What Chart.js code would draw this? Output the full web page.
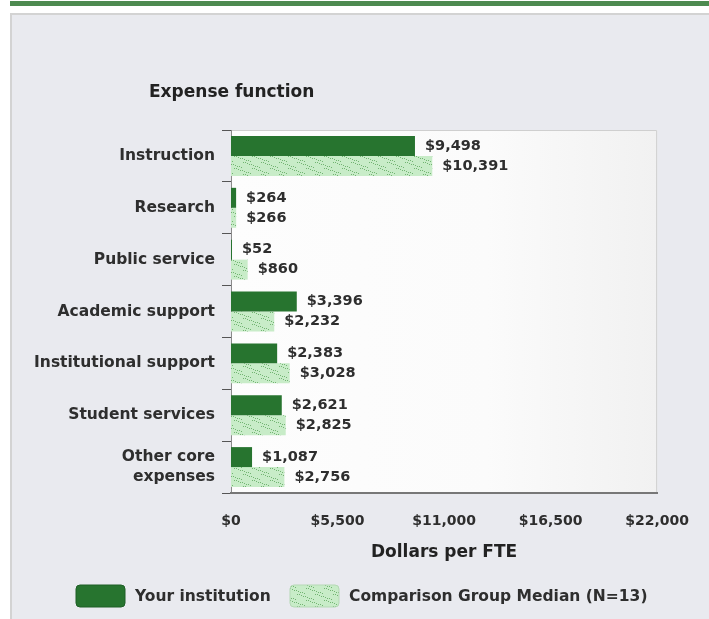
<!DOCTYPE html>
<html>
<head>
<meta charset="utf-8">
<script src="https://cdn.jsdelivr.net/npm/chart.js@4/dist/chart.umd.min.js"></script>
<style>
  html, body { margin: 0; padding: 0; background: #ffffff; }
  #wrap { width: 709px; height: 619px; }
</style>
</head>
<body>
<div id="wrap"><canvas id="c" width="709" height="619"></canvas></div>
<script>
const categories = ['Instruction', 'Research', 'Public service', 'Academic support', 'Institutional support', 'Student services', ['Other core', 'expenses']];
const yourInstitution = [9498, 264, 52, 3396, 2383, 2621, 1087];
const comparisonMedian = [10391, 266, 860, 2232, 3028, 2825, 2756];
const xTicks = [0, 5500, 11000, 16500, 22000];
const seriesNames = ['Your institution', 'Comparison Group Median (N=13)'];
const axisTitle = 'Dollars per FTE';
const chartTitle = 'Expense function';

const FONT = "'DejaVu Sans', Verdana, sans-serif";
const fmt = v => '$' + v.toLocaleString('en-US');

function makePattern() {
  const p = document.createElement('canvas');
  p.width = 18; p.height = 12;
  const g = p.getContext('2d');
  g.fillStyle = '#c8ecc8';
  g.fillRect(0, 0, 18, 12);
  g.fillStyle = '#72b472';
  for (let i = 0; i < 18; i += 2) {
    const y = Math.floor(i / 3);
    g.fillRect(i, y, 1, 1);
    g.fillRect((i + 9) % 18, 6 + y, 1, 1);
  }
  return document.getElementById('c').getContext('2d').createPattern(p, 'repeat');
}
const lightPattern = makePattern();
const darkColor = '#27742f';

const decor = {
  id: 'decor',
  beforeDraw(chart) {
    const ctx = chart.ctx;
    const a = chart.chartArea;
    ctx.save();
    ctx.fillStyle = '#ffffff';
    ctx.fillRect(0, 0, chart.width, chart.height);
    ctx.fillStyle = '#4d8a50';
    ctx.fillRect(10, 1, chart.width - 10, 5);
    ctx.fillStyle = '#d3d3d3';
    ctx.fillRect(10, 13, chart.width - 10, chart.height - 13);
    ctx.fillStyle = '#e9eaef';
    ctx.fillRect(12, 15, chart.width - 12, chart.height - 15);
    const gr = ctx.createLinearGradient(a.left, 0, a.right, 0);
    gr.addColorStop(0, '#fdfdfd');
    gr.addColorStop(0.6, '#fbfbfb');
    gr.addColorStop(1, '#f1f1f1');
    ctx.fillStyle = gr;
    ctx.fillRect(a.left, a.top, a.right - a.left, a.bottom - a.top);
    ctx.strokeStyle = '#cfcfcf';
    ctx.lineWidth = 1;
    ctx.beginPath();
    ctx.moveTo(a.left, a.top + 0.5);
    ctx.lineTo(a.right - 0.5, a.top + 0.5);
    ctx.lineTo(a.right - 0.5, a.bottom);
    ctx.stroke();
    ctx.fillStyle = '#222';
    ctx.font = 'bold 17px ' + FONT;
    ctx.textBaseline = 'middle';
    ctx.textAlign = 'left';
    ctx.fillText(chartTitle, 149, 93);
    ctx.restore();
  },
  afterDatasetsDraw(chart) {
    const ctx = chart.ctx;
    ctx.save();
    ctx.font = 'bold 14.5px ' + FONT;
    ctx.fillStyle = '#2e2e2e';
    ctx.textBaseline = 'middle';
    ctx.textAlign = 'left';
    chart.data.datasets.forEach((ds, di) => {
      chart.getDatasetMeta(di).data.forEach((bar, i) => {
        ctx.fillText(fmt(ds.data[i]), bar.x + 10, bar.y);
      });
    });
    // legend
    const items = [
      { x: 76, fill: darkColor, text: seriesNames[0] },
      { x: 290, fill: lightPattern, text: seriesNames[1] }
    ];
    const ly = 596;
    items.forEach(it => {
      ctx.beginPath();
      if (ctx.roundRect) ctx.roundRect(it.x, ly - 11, 49, 22, 4); else ctx.rect(it.x, ly - 11, 49, 22);
      ctx.fillStyle = it.fill;
      ctx.fill();
      ctx.strokeStyle = it.fill === darkColor ? '#1f5f26' : '#b5d9b5';
      ctx.lineWidth = 1;
      ctx.stroke();
      ctx.fillStyle = '#2e2e2e';
      ctx.font = 'bold 15.5px ' + FONT;
      ctx.fillText(it.text, it.x + 59, ly + 1);
    });
    ctx.restore();
  }
};

new Chart(document.getElementById('c'), {
  type: 'bar',
  data: {
    labels: categories,
    datasets: [
      { label: seriesNames[0], data: yourInstitution, backgroundColor: darkColor, borderWidth: 0, categoryPercentage: 0.77, barPercentage: 1.0 },
      { label: seriesNames[1], data: comparisonMedian, backgroundColor: lightPattern, borderWidth: 0, categoryPercentage: 0.77, barPercentage: 1.0 }
    ]
  },
  options: {
    indexAxis: 'y',
    responsive: false,
    animation: false,
    devicePixelRatio: 1,
    layout: { padding: { left: 0, top: 130, right: 49, bottom: 46 } },
    plugins: { legend: { display: false }, tooltip: { enabled: false }, title: { display: false } },
    scales: {
      y: {
        type: 'category',
        offset: true,
        afterFit(s) { s.width = 231; },
        grid: { display: true, drawOnChartArea: false, drawTicks: true, tickLength: 9, color: '#555555', offset: true },
        border: { display: true, color: '#8a8a8a', width: 1 },
        ticks: { color: '#2e2e2e', font: { family: FONT, size: 15.5, weight: 'bold', lineHeight: 1.3 }, padding: 7 }
      },
      x: {
        type: 'linear',
        min: 0,
        max: 22000,
        afterFit(s) { s.height = 80; },
        afterBuildTicks(s) { s.ticks = xTicks.map(v => ({ value: v })); },
        grid: { display: false, drawTicks: false },
        border: { display: true, color: '#777777', width: 2 },
        ticks: { color: '#2e2e2e', font: { family: FONT, size: 14, weight: 'bold' }, padding: 20, callback: v => fmt(v), maxRotation: 0 },
        title: { display: true, text: axisTitle, color: '#222222', font: { family: FONT, size: 17, weight: 'bold' }, padding: { top: 0, bottom: 10 } }
      }
    }
  },
  plugins: [decor]
});
</script>
</body>
</html>
